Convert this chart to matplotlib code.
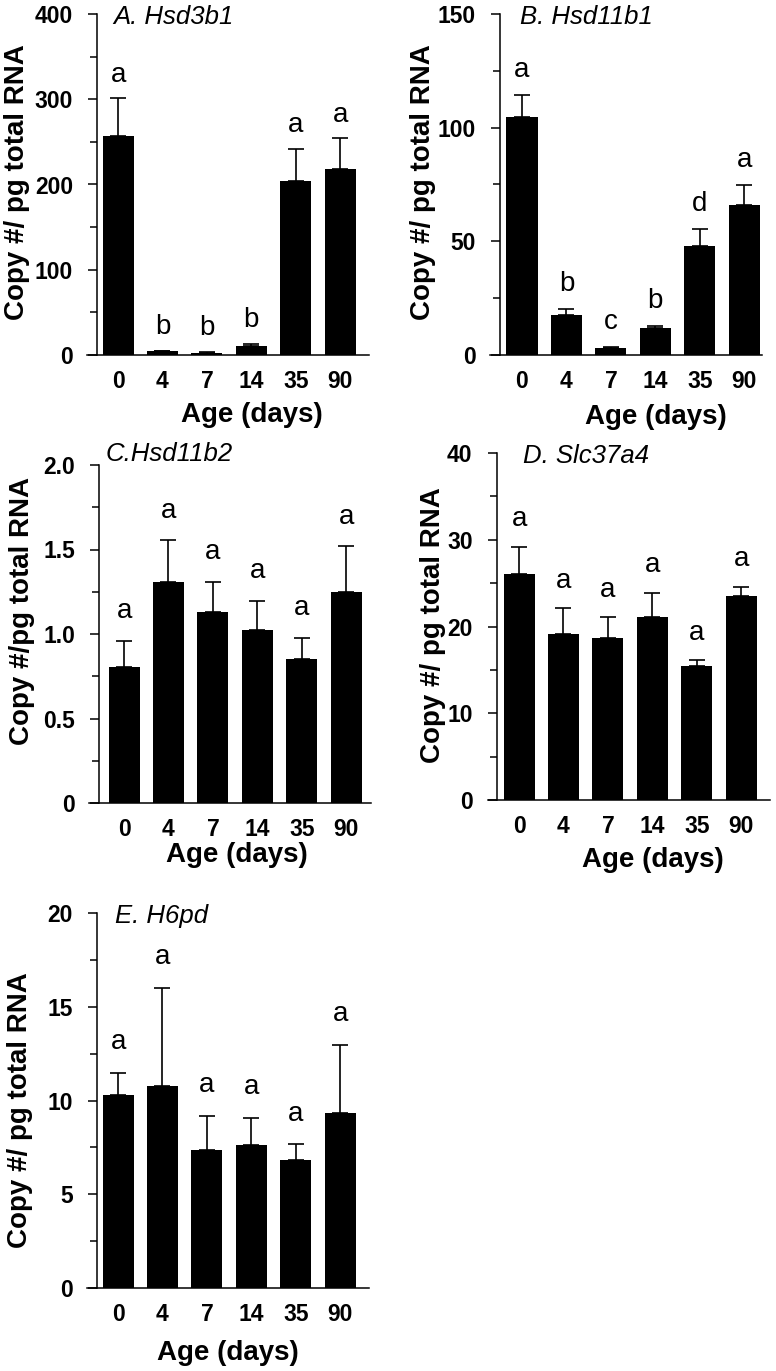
import matplotlib
matplotlib.use("Agg")
import matplotlib.pyplot as plt
from matplotlib.ticker import MultipleLocator
import numpy as np

plt.rcParams['font.family'] = ['Liberation Sans', 'DejaVu Sans']

W, H = 776, 1371

ages = ['0', '4', '7', '14', '35', '90']

# A. Hsd3b1
hsd3b1_mean = [257, 4.3, 2.7, 10, 204, 218]
hsd3b1_err = [44, 0.7, 0.8, 3, 38, 36]
hsd3b1_letters = ['a', 'b', 'b', 'b', 'a', 'a']

# B. Hsd11b1
hsd11b1_mean = [104.6, 17.7, 2.9, 11.7, 48, 65.9]
hsd11b1_err = [9.8, 2.5, 0.8, 0.9, 7.4, 9.0]
hsd11b1_letters = ['a', 'b', 'c', 'b', 'd', 'a']

# C. Hsd11b2
hsd11b2_mean = [0.806, 1.307, 1.129, 1.023, 0.851, 1.25]
hsd11b2_err = [0.155, 0.247, 0.18, 0.173, 0.126, 0.268]
hsd11b2_letters = ['a', 'a', 'a', 'a', 'a', 'a']

# D. Slc37a4
slc37a4_mean = [26.0, 19.1, 18.7, 21.05, 15.5, 23.55]
slc37a4_err = [3.2, 3.0, 2.35, 2.85, 0.6, 1.05]
slc37a4_letters = ['a', 'a', 'a', 'a', 'a', 'a']

# E. H6pd
h6pd_mean = [10.3, 10.79, 7.37, 7.63, 6.85, 9.32]
h6pd_err = [1.19, 5.21, 1.81, 1.46, 0.82, 3.66]
h6pd_letters = ['a', 'a', 'a', 'a', 'a', 'a']

fig = plt.figure(figsize=(W / 100, H / 100), dpi=100)


def px(x, y):
    # pixel position -> figure fraction
    return x / W, 1 - y / H


def panel(box, xlim, spine, mean, err, letters, ymax, major, minor, ticklabels,
          title, title_xy, ylabel, ylabel_xy, xlabel_xy, off):
    left, right, top, bottom = box
    ax = fig.add_axes([left / W, 1 - bottom / H, (right - left) / W, (bottom - top) / H])
    x = np.arange(len(mean))
    ax.bar(x, mean, width=0.7, color='black', zorder=2)
    ax.errorbar(x, mean, yerr=[np.zeros(len(err)), err], fmt='none', ecolor='black',
                elinewidth=1.2, capsize=5.5, capthick=1.2, zorder=1)
    for xi, m, e, lab in zip(x, mean, err, letters):
        ax.annotate(lab, (xi, m + e), xytext=(0, off), textcoords='offset points',
                    ha='center', va='center', fontsize=20)
    ax.set_xlim(*xlim)
    ax.set_ylim(0, ymax)
    ax.spines['top'].set_visible(False)
    ax.spines['right'].set_visible(False)
    ax.spines['left'].set_position(('data', spine))
    for s in ['left', 'bottom']:
        ax.spines[s].set_linewidth(1.1)
    ax.set_xticks(x)
    ax.set_xticklabels(ages, fontsize=16.5, fontweight='bold')
    ax.tick_params(axis='x', length=0, pad=11)
    ax.set_yticks(np.arange(0, ymax + major / 2, major))
    ax.set_yticklabels(ticklabels, fontsize=16.5, fontweight='bold')
    ax.yaxis.set_minor_locator(MultipleLocator(minor))
    ax.tick_params(axis='y', which='major', direction='out', length=6.5, width=1.1, pad=11)
    ax.tick_params(axis='y', which='minor', direction='out', length=5, width=1.1)
    fx, fy = px(*title_xy)
    fig.text(fx, fy, title, fontsize=18.5, style='italic', ha='left', va='center')
    fx, fy = px(*ylabel_xy)
    fig.text(fx, fy, ylabel, fontsize=20, fontweight='bold', rotation=90, ha='center', va='center')
    fx, fy = px(*xlabel_xy)
    fig.text(fx, fy, 'Age (days)', fontsize=20, fontweight='bold', ha='center', va='center')
    return ax


panel((87, 369, 14, 355), (-0.70, 5.65), -0.47, hsd3b1_mean, hsd3b1_err, hsd3b1_letters,
      400, 100, 50, ['0', '100', '200', '300', '400'],
      'A. Hsd3b1', (113, 17), 'Copy #/ pg total RNA', (17, 182), (252, 415), 17)

panel((490, 762, 14, 355), (-0.72, 5.40), -0.50, hsd11b1_mean, hsd11b1_err, hsd11b1_letters,
      150, 50, 25, ['0', '50', '100', '150'],
      'B. Hsd11b1', (520, 17), 'Copy #/ pg total RNA', (423, 182), (656, 417), 18)

panel((89, 371, 465, 803), (-0.79, 5.56), -0.56, hsd11b2_mean, hsd11b2_err, hsd11b2_letters,
      2.0, 0.5, 0.25, ['0', '0.5', '1.0', '1.5', '2.0'],
      'C.Hsd11b2', (106, 454), 'Copy #/pg total RNA', (22, 611), (237, 855), 21.5)

panel((488, 770, 453, 800), (-0.70, 5.65), -0.50, slc37a4_mean, slc37a4_err, slc37a4_letters,
      40, 10, 5, ['0', '10', '20', '30', '40'],
      'D. Slc37a4', (523, 456), 'Copy #/ pg total RNA', (433, 625), (653, 860), 20)

panel((87, 369, 913, 1288), (-0.70, 5.65), -0.47, h6pd_mean, h6pd_err, h6pd_letters,
      20, 5, 2.5, ['0', '5', '10', '15', '20'],
      'E. H6pd', (115, 916), 'Copy #/ pg total RNA', (20, 1110), (228, 1353), 22)

fig.savefig('out.png', dpi=100)
